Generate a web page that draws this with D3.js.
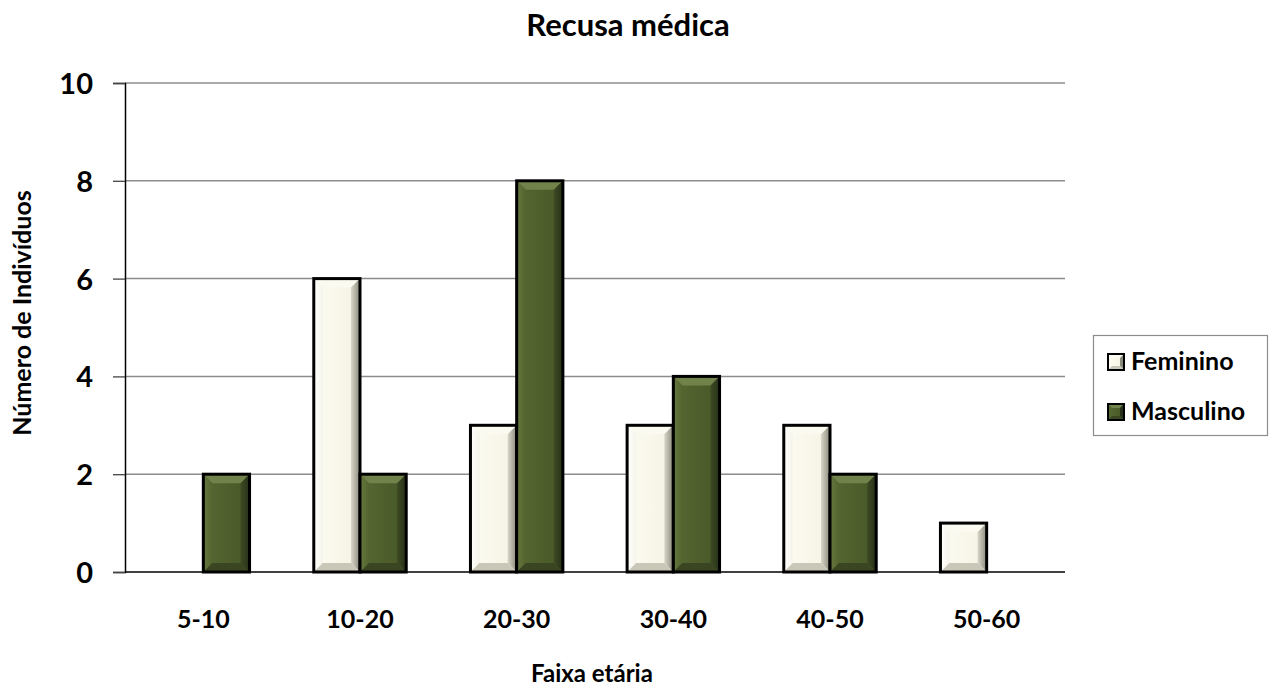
<!DOCTYPE html>
<html>
<head>
<meta charset="utf-8">
<script src="https://cdn.jsdelivr.net/npm/d3@7"></script>
<style>
  html, body { margin: 0; padding: 0; background: #fff; }
  svg { display: block; font-family: Lato, "Open Sans", sans-serif; }
</style>
</head>
<body>
<svg id="chart" width="1274" height="686"></svg>
<script>
// Age groups and counts per sex
const categories = ["5-10", "10-20", "20-30", "30-40", "40-50", "50-60"];
const seriesNames = ["Feminino", "Masculino"];
const feminino = [0, 6, 3, 3, 3, 1];
const masculino = [2, 2, 8, 4, 2, 0];
const yTicks = [0, 2, 4, 6, 8, 10];

const svg = d3.select("#chart");
const margin = { left: 125, right: 1065, top: 83, bottom: 572 };

const x = d3.scaleBand().domain(categories).range([margin.left, margin.right]).paddingInner(0.41).paddingOuter(0.205);
const xs = d3.scaleBand().domain(seriesNames).range([0, x.bandwidth()]);
const y = d3.scaleLinear().domain([0, 10]).range([margin.bottom, margin.top]);

// palettes per series: center, top, left, right, bottom
const palette = {
  Feminino:  { center: ["#fdfcf3", "#f4f2e2"], top: "#fbfaf0", left: ["#ffffff", "#f5f4ea"], right: ["#d8d6c8", "#8a8a7c"], bottom: "#c9c7b8" },
  Masculino: { center: ["#566832", "#475728"], top: "#71834a", left: ["#66783e", "#53642e"], right: ["#3d4a22", "#26301a"], bottom: "#3a4622" }
};

const defs = svg.append("defs");
Object.entries(palette).forEach(([k, p]) => {
  const mk = (id, stops) => {
    const g = defs.append("linearGradient").attr("id", id).attr("x1", 0).attr("x2", 1).attr("y1", 0).attr("y2", 0);
    g.append("stop").attr("offset", "0%").attr("stop-color", stops[0]);
    g.append("stop").attr("offset", "100%").attr("stop-color", stops[1]);
  };
  mk(k + "-center", p.center);
  mk(k + "-left", p.left);
  mk(k + "-right", p.right);
});

// gridlines
svg.append("g")
  .selectAll("line").data(yTicks.filter(d => d > 0)).join("line")
  .attr("x1", margin.left).attr("x2", margin.right)
  .attr("y1", d => y(d)).attr("y2", d => y(d))
  .attr("stroke", "#8c8c8c").attr("stroke-width", 1.5);

// y axis
const yAxis = svg.append("g").attr("transform", `translate(${margin.left},0)`)
  .call(d3.axisLeft(y).tickValues(yTicks).tickSize(12).tickPadding(20).tickFormat(d3.format("d")));
yAxis.select(".domain").attr("stroke", "#000").attr("stroke-width", 1.5);
yAxis.selectAll(".tick line").attr("stroke", "#444").attr("stroke-width", 1.3);
yAxis.selectAll(".tick text").attr("font-size", 29).attr("font-weight", "bold").attr("fill", "#000")
  .attr("font-family", "Lato, sans-serif").attr("dy", "0.36em");

// beveled bars
const rows = [];
categories.forEach((c, i) => {
  rows.push({ cat: c, s: "Feminino", v: feminino[i] });
  rows.push({ cat: c, s: "Masculino", v: masculino[i] });
});

const barG = svg.append("g");
rows.filter(d => d.v > 0).forEach(d => {
  const x0 = x(d.cat) + xs(d.s), w = xs.bandwidth();
  const y0 = y(d.v), y1 = y(0), h = y1 - y0;
  const b = Math.min(9, w / 2 - 1, h / 2 - 1);
  const x1 = x0 + w;
  const g = barG.append("g");
  const poly = pts => pts.map(p => p.join(",")).join(" ");
  g.append("rect").attr("x", x0).attr("y", y0).attr("width", w).attr("height", h).attr("fill", `url(#${d.s}-center)`);
  g.append("polygon").attr("points", poly([[x0, y0], [x1, y0], [x1 - b, y0 + b], [x0 + b, y0 + b]])).attr("fill", palette[d.s].top);
  g.append("polygon").attr("points", poly([[x0, y0], [x0 + b, y0 + b], [x0 + b, y1 - b], [x0, y1]])).attr("fill", `url(#${d.s}-left)`);
  g.append("polygon").attr("points", poly([[x1, y0], [x1, y1], [x1 - b, y1 - b], [x1 - b, y0 + b]])).attr("fill", `url(#${d.s}-right)`);
  g.append("polygon").attr("points", poly([[x0, y1], [x0 + b, y1 - b], [x1 - b, y1 - b], [x1, y1]])).attr("fill", palette[d.s].bottom);
  g.append("rect").attr("x", x0).attr("y", y0).attr("width", w).attr("height", h)
    .attr("fill", "none").attr("stroke", "#000").attr("stroke-width", 3);
});

// baseline
svg.append("line").attr("x1", margin.left).attr("x2", margin.right)
  .attr("y1", y(0)).attr("y2", y(0)).attr("stroke", "#000").attr("stroke-width", 1.5);

// category labels
svg.append("g").selectAll("text").data(categories).join("text")
  .attr("x", d => x(d) + x.bandwidth() / 2).attr("y", 628)
  .attr("text-anchor", "middle").attr("font-size", 25).attr("font-weight", "bold").text(d => d);

// titles
svg.append("text").attr("x", 628).attr("y", 36).attr("text-anchor", "middle")
  .attr("font-size", 31).attr("font-weight", "bold").text("Recusa médica");
svg.append("text").attr("x", 592).attr("y", 682).attr("text-anchor", "middle")
  .attr("font-size", 24).attr("font-weight", "bold").text("Faixa etária");
svg.append("text").attr("transform", "translate(31,313) rotate(-90)").attr("text-anchor", "middle")
  .attr("font-size", 25).attr("font-weight", "bold").text("Número de Indivíduos");

// legend
const lg = svg.append("g");
lg.append("rect").attr("x", 1093.5).attr("y", 335.5).attr("width", 174).attr("height", 100)
  .attr("fill", "#fff").attr("stroke", "#8c8c8c").attr("stroke-width", 1.2);
seriesNames.forEach((s, i) => {
  const cy = 362 + i * 50;
  const sx = 1108, sz = 16, b = 4;
  const p = palette[s];
  const gg = lg.append("g");
  const poly = pts => pts.map(q => q.join(",")).join(" ");
  gg.append("rect").attr("x", sx).attr("y", cy - sz / 2).attr("width", sz).attr("height", sz).attr("fill", `url(#${s}-center)`);
  const X0 = sx, X1 = sx + sz, Y0 = cy - sz / 2, Y1 = cy + sz / 2;
  gg.append("polygon").attr("points", poly([[X0, Y0], [X1, Y0], [X1 - b, Y0 + b], [X0 + b, Y0 + b]])).attr("fill", p.top);
  gg.append("polygon").attr("points", poly([[X1, Y0], [X1, Y1], [X1 - b, Y1 - b], [X1 - b, Y0 + b]])).attr("fill", p.right[1]);
  gg.append("polygon").attr("points", poly([[X0, Y1], [X0 + b, Y1 - b], [X1 - b, Y1 - b], [X1, Y1]])).attr("fill", p.bottom);
  gg.append("rect").attr("x", sx).attr("y", cy - sz / 2).attr("width", sz).attr("height", sz)
    .attr("fill", "none").attr("stroke", "#000").attr("stroke-width", 2);
  lg.append("text").attr("x", 1131).attr("y", cy + 8).attr("font-size", 25).attr("font-weight", "bold").text(s);
});
</script>
</body>
</html>
